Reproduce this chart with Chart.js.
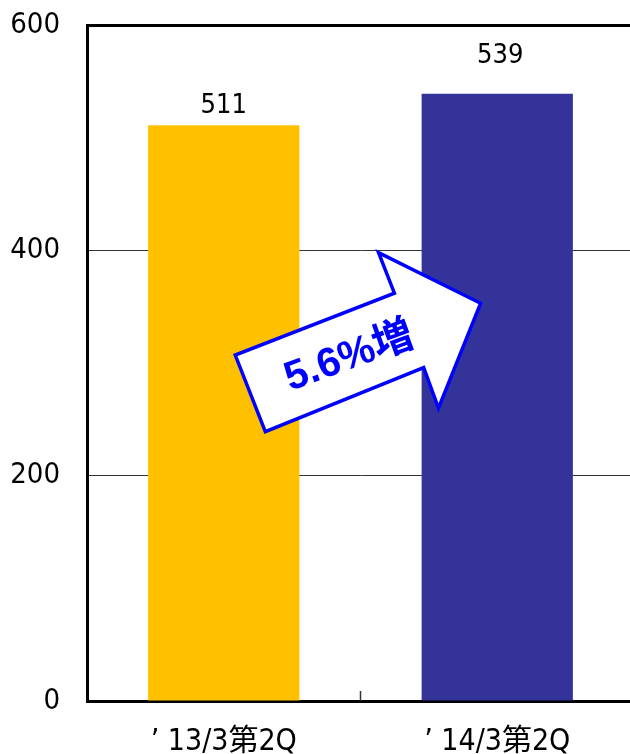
<!DOCTYPE html>
<html>
<head>
<meta charset="utf-8">
<script src="https://cdn.jsdelivr.net/npm/chart.js@4"></script>
<style>
  html, body { margin: 0; padding: 0; background: #fff; overflow: hidden; }
  canvas { display: block; }
</style>
</head>
<body>
<canvas id="chart" width="634" height="754"></canvas>
<script>
// Data
const categories = ['\u2019 13/3第2Q', '\u2019 14/3第2Q'];
const salesValues = [511, 539];
const barColors = ['#FFC000', '#333399'];
const yTickValues = [0, 200, 400, 600];
const changeLabel = '5.6%増';

const NARROW = "'Liberation Sans Narrow', 'Arial Narrow', 'DejaVu Sans Condensed', 'Noto Sans CJK JP', sans-serif";

// label offsets above each bar (the original labels were nudged by hand)
const labelLift = [12, 31];

// arrow outline in (category index, value) units
const arrowOutline = [
    [0.152, 239], [0.042, 307], [0.624, 362], [0.566, 398],
    [0.939, 353], [0.785, 260], [0.731, 296]
];
const arrowTextAt = [0.46, 305];

const valueLabels = {
    id: 'valueLabels',
    afterDatasetsDraw(chart) {
        const ctx = chart.ctx;
        const meta = chart.getDatasetMeta(0);
        ctx.save();
        ctx.fillStyle = '#000';
        ctx.font = '27px ' + NARROW;
        ctx.textAlign = 'center';
        ctx.textBaseline = 'alphabetic';
        meta.data.forEach((bar, i) => {
            ctx.fillText(String(salesValues[i]), bar.x + i * 3, bar.y - labelLift[i]);
        });
        ctx.restore();
    }
};

const extras = {
    id: 'extras',
    afterDraw(chart) {
        const ctx = chart.ctx;
        const xs = chart.scales.x;
        const ys = chart.scales.y;
        const area = chart.chartArea;

        // small tick between the two categories, pointing into the plot
        const mid = (xs.getPixelForValue(0) + xs.getPixelForValue(1)) / 2;
        ctx.save();
        ctx.strokeStyle = '#333';
        ctx.lineWidth = 1.5;
        ctx.beginPath();
        ctx.moveTo(mid, area.bottom);
        ctx.lineTo(mid, area.bottom - 10);
        ctx.stroke();

        // growth arrow
        const px = p => [xs.getPixelForValue(0) + p[0] * (xs.getPixelForValue(1) - xs.getPixelForValue(0)),
                         ys.getPixelForValue(p[1])];
        ctx.beginPath();
        arrowOutline.forEach((p, i) => {
            const [x, y] = px(p);
            if (i === 0) ctx.moveTo(x, y); else ctx.lineTo(x, y);
        });
        ctx.closePath();
        ctx.fillStyle = '#fff';
        ctx.fill();
        ctx.strokeStyle = '#0000FF';
        ctx.lineWidth = 3.5;
        ctx.lineJoin = 'miter';
        ctx.stroke();

        const [tx, ty] = px(arrowTextAt);
        ctx.translate(tx, ty);
        ctx.rotate(-20 * Math.PI / 180);
        ctx.fillStyle = '#0000FF';
        ctx.font = "bold 41px 'Liberation Sans', 'Noto Sans CJK JP', sans-serif";
        ctx.textAlign = 'center';
        ctx.textBaseline = 'middle';
        ctx.fillText(changeLabel, 0, 0);
        ctx.restore();
    }
};

new Chart(document.getElementById('chart'), {
    type: 'bar',
    data: {
        labels: categories,
        datasets: [{
            data: salesValues,
            backgroundColor: barColors,
            borderWidth: 0,
            barPercentage: 0.553,
            categoryPercentage: 1.0
        }]
    },
    options: {
        responsive: false,
        animation: false,
        layout: { padding: { top: 25, left: 0, right: 0, bottom: 0 } },
        plugins: {
            legend: { display: false },
            tooltip: { enabled: false }
        },
        scales: {
            x: {
                offset: true,
                grid: { display: false, drawTicks: false },
                border: { display: true, color: '#000', width: 3 },
                ticks: {
                    color: '#000',
                    padding: 23,
                    font: { family: NARROW, size: 30 }
                },
                afterFit: scale => {
                    scale.height = 53;
                    scale.paddingLeft = 0;
                    scale.paddingRight = 0;
                }
            },
            y: {
                min: 0,
                max: 600,
                afterBuildTicks: scale => {
                    scale.ticks = yTickValues.map(v => ({ value: v }));
                },
                grid: {
                    drawTicks: false,
                    color: ctx => ctx.tick && ctx.tick.value === 600 ? '#000' : '#333',
                    lineWidth: ctx => ctx.tick && ctx.tick.value === 600 ? 3 : 1
                },
                border: { display: true, color: '#000', width: 3 },
                ticks: {
                    color: '#000',
                    padding: 27,
                    font: { family: NARROW, size: 29 }
                },
                afterFit: scale => {
                    scale.width = 87;
                    scale.paddingTop = 0;
                    scale.paddingBottom = 0;
                }
            }
        }
    },
    plugins: [valueLabels, extras]
});
</script>
</body>
</html>
